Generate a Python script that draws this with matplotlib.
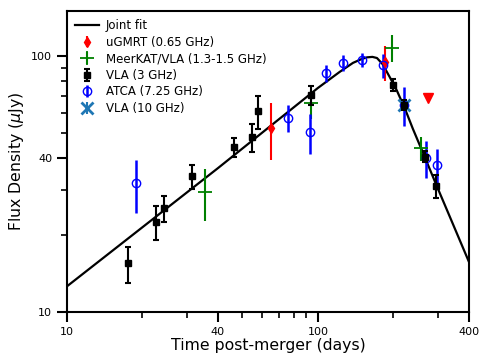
import numpy as np
import matplotlib
matplotlib.use("Agg")
import matplotlib.pyplot as plt
from matplotlib.ticker import FixedLocator, NullFormatter

# --- joint fit curve ---
fit_t = [10, 40, 85, 100, 122, 138, 150, 157, 165, 172, 181, 193, 206, 222, 239, 262, 298, 336, 400]
fit_f = [12.6, 36.5, 66.0, 75.0, 86.6, 94.0, 97.5, 98.8, 99.2, 98.2, 93.0, 83.0, 73.6, 62.5, 52.0, 42.0, 31.0, 23.5, 15.7]

# --- uGMRT 0.65 GHz ---
gmrt_t = [65.0, 185.0]
gmrt_f = [52.3, 94.6]
gmrt_e = [13.0, 15.0]
gmrt_lim_t = [274]
gmrt_lim_f = [68.5]

# --- MeerKAT/VLA 1.3-1.5 GHz ---
mk_t = [35.5, 93.8, 197.0, 257.0]
mk_f = [29.4, 65.5, 107.4, 43.7]
mk_e = [6.7, 8.5, 13.0, 4.7]

# --- VLA 3 GHz ---
vla3_t = [17.5, 22.6, 24.3, 31.5, 46.2, 54.6, 57.7, 93.8, 199.0, 220.0, 267.0, 295.0]
vla3_f = [15.5, 22.5, 25.5, 34.0, 44.2, 48.3, 60.9, 70.5, 77.1, 64.4, 40.5, 31.0]
vla3_e = [2.5, 3.4, 3.0, 3.7, 3.8, 6.0, 9.0, 6.0, 4.0, 3.0, 2.0, 3.2]

# --- ATCA 7.25 GHz ---
atca_t = [18.8, 75.9, 92.9, 107.6, 125.8, 149.6, 181.5, 220.0, 269.0, 298.0]
atca_f = [31.9, 57.3, 50.5, 85.9, 94.0, 96.4, 92.2, 64.4, 40.0, 37.5]
atca_e = [7.5, 7.0, 9.0, 6.5, 7.0, 6.0, 10.0, 11.0, 6.5, 6.0]

# --- VLA 10 GHz ---
vla10_t = [220.0]
vla10_f = [64.4]
vla10_e = [3.0]

xticks = [10, 40, 100, 400]
yticks = [10, 40, 100]

fig = plt.figure(figsize=(4.84, 3.63), dpi=100)
ax = fig.add_axes([0.138, 0.14, 0.831, 0.83])

ax.plot(fit_t, fit_f, color="black", lw=1.6, label="Joint fit", zorder=2)

ax.errorbar(gmrt_t, gmrt_f, yerr=gmrt_e, fmt="d", color="red", ms=5, lw=1.5,
            label="uGMRT (0.65 GHz)", zorder=3)
ax.plot(gmrt_lim_t, gmrt_lim_f, "v", color="red", ms=7, zorder=3)

ax.errorbar(mk_t, mk_f, yerr=mk_e, fmt="+", color="green", ms=10, mew=1.3, lw=1.5,
            label="MeerKAT/VLA (1.3-1.5 GHz)", zorder=3)

ax.errorbar(vla3_t, vla3_f, yerr=vla3_e, fmt="s", color="black", ms=5, lw=1.5,
            capsize=2.2, capthick=1.5, label="VLA (3 GHz)", zorder=4)

ax.errorbar(atca_t, atca_f, yerr=atca_e, fmt="o", color="blue", mfc="none", ms=6,
            mew=1.0, lw=1.8, label="ATCA (7.25 GHz)", zorder=3)

ax.errorbar(vla10_t, vla10_f, yerr=vla10_e, fmt="x", color="#1f77b4", ms=9, mew=2,
            lw=1.5, label="VLA (10 GHz)", zorder=3)

ax.set_xscale("log")
ax.set_yscale("log")
ax.set_xlim(10, 400)
ax.set_ylim(10, 150)

ax.xaxis.set_major_locator(FixedLocator(xticks))
ax.xaxis.set_major_formatter(plt.FixedFormatter([str(v) for v in xticks]))
ax.xaxis.set_minor_locator(FixedLocator([20, 30, 50, 60, 70, 80, 90, 200, 300]))
ax.xaxis.set_minor_formatter(NullFormatter())
ax.yaxis.set_major_locator(FixedLocator(yticks))
ax.yaxis.set_major_formatter(plt.FixedFormatter([str(v) for v in yticks]))
ax.yaxis.set_minor_locator(FixedLocator([20, 30, 50, 60, 70, 80, 90]))
ax.yaxis.set_minor_formatter(NullFormatter())

ax.tick_params(which="major", direction="out", length=7, width=1.5, labelsize=8)
ax.tick_params(which="minor", direction="out", length=4, width=1.2)
for s in ax.spines.values():
    s.set_linewidth(1.5)

ax.set_xlabel("Time post-merger (days)", fontsize=11.3, labelpad=1)
ax.set_ylabel(r"Flux Density ($\mu$Jy)", fontsize=11.3)

ax.legend(loc="upper left", frameon=False, fontsize=8.5, handlelength=2.0,
          handletextpad=0.6, labelspacing=0.3, borderaxespad=0.3)

fig.savefig("out.png", dpi=100)
